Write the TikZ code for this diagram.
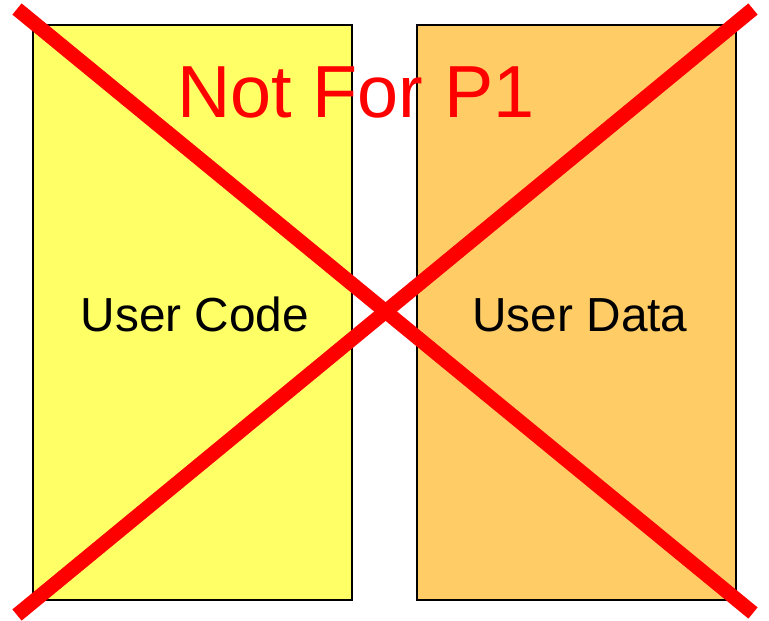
\documentclass[tikz,border=0pt]{standalone}
\usepackage{fontspec}
\setmainfont{Liberation Sans}
\begin{document}
\begin{tikzpicture}[x=1pt,y=-1pt,
  region/.style={draw=black,line width=1.4pt,inner sep=0pt,minimum width=319pt,minimum height=575pt},
  label/.style={font=\fontsize{47.8}{50}\selectfont,inner sep=0pt,anchor=base},
  cross/.style={draw=red,line width=14.5pt,line cap=butt}]
\useasboundingbox (0,0) rectangle (769,621);
\definecolor{codefill}{HTML}{FFFF66}
\definecolor{datafill}{HTML}{FFCC66}
% two memory regions
\node[region,fill=codefill] (code) at (192.5,312.5) {};
\node[region,fill=datafill] (data) at (576.5,312.5) {};
\node[label] (codetxt) at (195,331.5) {User Code};
\node[label] (datatxt) at (580,331.5) {User Data};
% heading
\node[font=\fontsize{73.8}{76}\selectfont,text=red,inner sep=0pt,anchor=base] (title) at (356,117.5) {Not For P1};
% crossing-out strokes
\coordinate (tl) at (17,9);
\coordinate (br) at (753,613);
\coordinate (tr) at (753,9);
\coordinate (bl) at (17,615);
\draw[cross] (tl) -- (br);
\draw[cross] (tr) -- (bl);
\end{tikzpicture}
\end{document}
